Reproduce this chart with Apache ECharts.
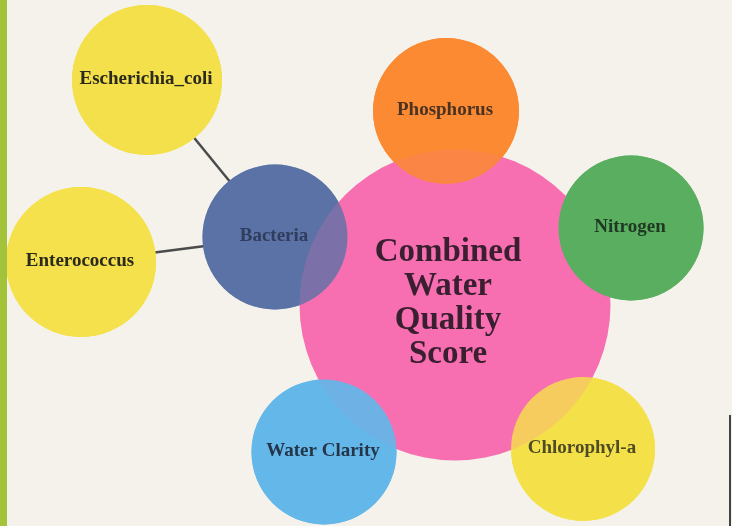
<!DOCTYPE html>
<html>
<head>
<meta charset="utf-8">
<script src="https://cdn.jsdelivr.net/npm/echarts@6/dist/echarts.min.js"></script>
<style>
html,body{margin:0;padding:0;background:#f4f2ea;}
#chart{width:732px;height:526px;}
</style>
</head>
<body>
<div id="chart"></div>
<script>
// Central node
var centerName = 'Combined\nWater\nQuality\nScore';
var centerPos = [455, 305];
var centerSize = 311;
// Satellite nodes: names, positions (diagram units) and diameters
var names = ['Phosphorus', 'Nitrogen', 'Chlorophyl-a', 'Water Clarity', 'Bacteria', 'Escherichia_coli', 'Enterococcus'];
var xs    = [446, 631, 583, 324, 275, 147, 81];
var ys    = [111, 228, 449, 452, 237, 80, 262];
var sizes = [146, 145, 144, 145, 145, 150, 150];
// Links between satellite nodes (by name)
var linkFrom = ['Bacteria', 'Bacteria'];
var linkTo   = ['Escherichia_coli', 'Enterococcus'];

var colors = ['#fb8a33', '#5aae60', '#f4e14b', '#63b7e8', '#5b72a6', '#f3e04b', '#f4e14b'];
var alphas = [0.85, 1, 0.82, 0.93, 0.8, 1, 1];
var textColors = ['#2b2320', '#1e3822', '#2b2a1c', '#1f2a3c', '#27304a', '#2b2a1c', '#2b2a1c'];

function baseNodes() {
  return names.map(function (n, i) {
    return {
      name: n,
      value: [xs[i], ys[i]],
      symbolSize: sizes[i],
      itemStyle: { color: colors[i], opacity: 1 }
    };
  });
}
var topNodes = names.map(function (n, i) {
  return {
    name: n,
    value: [xs[i], ys[i]],
    symbolSize: sizes[i],
    itemStyle: { color: colors[i], opacity: alphas[i] },
    label: {
      show: true,
      position: 'inside',
      formatter: '{b}',
      offset: [-1, -1],
      color: textColors[i],
      fontFamily: 'Liberation Serif',
      fontWeight: 'bold',
      fontSize: 19,
      lineHeight: 20
    }
  };
});
var links = linkFrom.map(function (s, i) {
  return { source: s, target: linkTo[i] };
});

var chart = echarts.init(document.getElementById('chart'), null, { renderer: 'canvas' });
chart.setOption({
  backgroundColor: '#f4f2ea',
  animation: false,
  grid: { left: 0, right: 0, top: 0, bottom: 0 },
  xAxis: { type: 'value', min: 0, max: 732, show: false },
  yAxis: { type: 'value', min: 0, max: 526, inverse: true, show: false },
  graphic: [
    { type: 'rect', left: 0, top: 0, shape: { width: 7, height: 526 }, style: { fill: '#a3c33b' }, z: 10 },
    { type: 'rect', left: 729, top: 415, shape: { width: 2, height: 111 }, style: { fill: '#3f4540' }, z: 10 }
  ],
  series: [
    {
      type: 'graph',
      coordinateSystem: 'cartesian2d',
      layout: 'none',
      symbol: 'circle',
      z: 1,
      data: baseNodes(),
      links: links,
      edgeSymbol: ['none', 'none'],
      lineStyle: { color: '#4a4c4c', width: 2.5, opacity: 1 },
      label: { show: false },
      emphasis: { disabled: true },
      silent: true
    },
    {
      type: 'scatter',
      z: 2,
      symbol: 'circle',
      data: [{
        name: centerName,
        value: centerPos,
        symbolSize: centerSize,
        itemStyle: { color: '#f76fb1', opacity: 1 },
        label: {
          show: true,
          position: 'inside',
          formatter: '{b}',
          offset: [-7, -2],
          color: '#3a1f30',
          fontFamily: 'Liberation Serif',
          fontWeight: 'bold',
          fontSize: 33,
          lineHeight: 34
        }
      }],
      emphasis: { disabled: true },
      silent: true
    },
    {
      type: 'scatter',
      z: 3,
      symbol: 'circle',
      data: topNodes,
      emphasis: { disabled: true },
      silent: true
    }
  ]
});
</script>
</body>
</html>
